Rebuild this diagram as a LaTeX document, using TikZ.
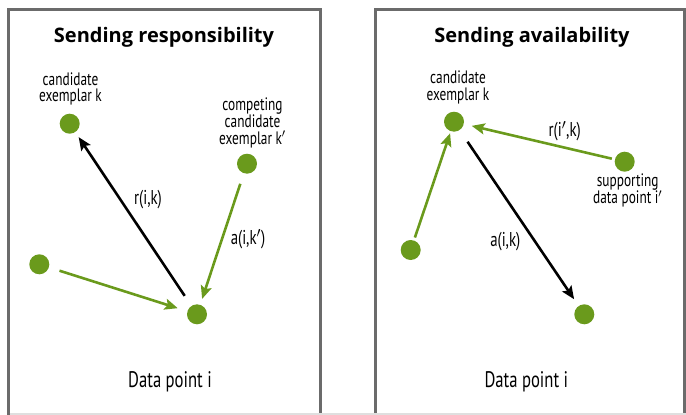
\documentclass[tikz,border=0pt]{standalone}
\usepackage{fontspec}
\setmainfont{Open Sans}
\newfontfamily\condfont[FakeStretch=0.74]{PT Sans}
\newfontfamily\titlefont{Open Sans}
\usetikzlibrary{arrows.meta}
\definecolor{ptgreen}{HTML}{6A9A1C}
\definecolor{frame}{HTML}{6B6B6B}
\tikzset{
  pt/.style={circle, fill=ptgreen, minimum size=20pt, inner sep=0pt},
  panel/.style={draw=frame, line width=3pt},
  ttl/.style={font=\titlefont\bfseries\fontsize{20}{22}\selectfont},
  lbl/.style={font=\condfont\fontsize{18}{16.5}\selectfont, align=center},
  lbig/.style={font=\condfont\fontsize{22.5}{23}\selectfont},
  lmid/.style={font=\condfont\fontsize{20}{20}\selectfont},
  garrow/.style={draw=ptgreen, line width=2.6pt, -{Stealth[length=13pt,width=11pt,inset=2.5pt]}},
  barrow/.style={draw=black, line width=2.6pt, -{Stealth[length=13pt,width=11pt,inset=2.5pt]}}
}
\begin{document}
\begin{tikzpicture}[x=1pt,y=-1pt]
\useasboundingbox (0,0) rectangle (686,415);
% panels
\draw[panel] (8.5,9.5) rectangle (320.5,430);
\draw[panel] (375.5,9.5) rectangle (684.5,430);
\draw[gray!25, line width=1.5pt] (10,414.2) -- (686,414.2);
% left panel
\node[ttl] (t1) at (164,37) {Sending responsibility};
\node[pt] (k1) at (69.7,123.7) {};
\node[pt] (kp1) at (247,163.7) {};
\node[pt] (o1) at (39.3,264.3) {};
\node[pt] (i1) at (197,314.3) {};
\node[lbl] (lk1) at (70.5,89) {candidate\\exemplar k};
\node[lbl] (lkp1) at (252.5,122.5) {competing\\candidate\\exemplar k$'$};
\node[lmid] (r1) at (148,200) {r(i,k)};
\node[lmid] (a1) at (248,239) {a(i,k$'$)};
\node[lbig] (d1) at (170,382) {Data point i};
\draw[barrow, shorten <=12pt, shorten >=6pt] (i1) -- (k1);
\draw[garrow, shorten <=11pt, shorten >=6pt] (kp1) -- (i1);
\draw[garrow, shorten <=11pt, shorten >=10pt] (o1) -- (i1);
% right panel
\node[ttl] (t2) at (532,37) {Sending availability};
\node[pt] (k2) at (454,121.7) {};
\node[pt] (ip2) at (624.7,161.7) {};
\node[pt] (o2) at (410.7,250) {};
\node[pt] (i2) at (584.3,314.3) {};
\node[lbl] (lk2) at (458,87.5) {candidate\\exemplar k};
\node[lbl] (lip2) at (627.7,190.5) {supporting\\data point i$'$};
\node[lmid] (r2) at (564.7,131) {r(i$'$,k)};
\node[lmid] (a2) at (505.3,242) {a(i,k)};
\node[lbig] (d2) at (526.3,382) {Data point i};
\draw[garrow, shorten <=3pt, shorten >=2pt] (o2) -- (k2);
\draw[garrow, shorten <=3pt, shorten >=8pt] (ip2) -- (k2);
\draw[barrow, shorten <=14pt, shorten >=8pt] (k2) -- (i2);
\end{tikzpicture}
\end{document}
